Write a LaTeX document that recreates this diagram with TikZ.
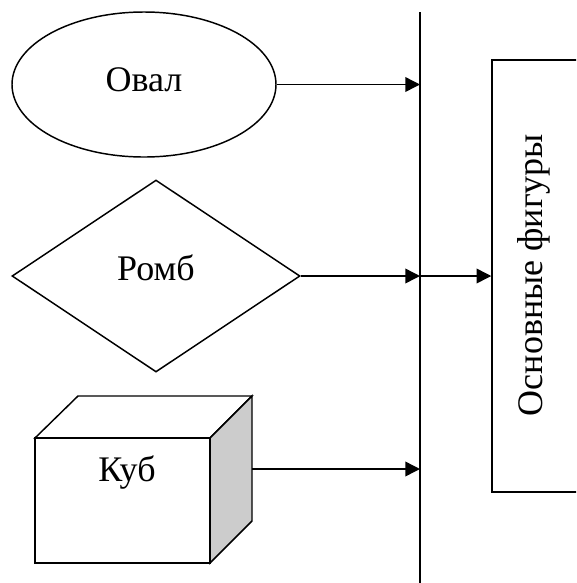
\documentclass[tikz,border=0pt]{standalone}
\usepackage{fontspec}
\setmainfont{Liberation Serif}
\usetikzlibrary{shapes.geometric,arrows.meta}
\begin{document}
\begin{tikzpicture}[x=0.75pt,y=-0.75pt,
  line width=1.1pt,
  lbl/.style={font=\fontsize{27}{32}\selectfont},
  shp/.style={draw,inner sep=0pt,line join=miter},
  conn/.style={-{Triangle[length=11pt,width=11pt]}}]
\useasboundingbox (0,0) rectangle (576,583);
\clip (0,0) rectangle (576,583);
% oval
\node[shp,ellipse,minimum width=198pt,minimum height=108.75pt] (oval) at (144,84.5) {};
\node[lbl] (ovaltxt) at (144,80) {Овал};
% diamond
\node[shp,diamond,minimum width=216pt,minimum height=144pt] (romb) at (156,276) {};
\node[lbl] (rombtxt) at (156,268) {Ромб};
% cube
\coordinate (ctl) at (35,438);
\coordinate (ctr) at (210,438);
\coordinate (cbr) at (210,563);
\coordinate (btl) at (78,396);
\coordinate (btr) at (252,396);
\coordinate (bbr) at (252,521);
\draw[fill=white,line join=miter] (ctl) -- (btl) -- (btr) -- (ctr) -- cycle;
\draw[fill=gray!40,line join=miter] (ctr) -- (btr) -- (bbr) -- (cbr) -- cycle;
\node[shp,rectangle,minimum width=131.25pt,minimum height=93.75pt] (cube) at (122.5,500.5) {};
\node[lbl] (cubetxt) at (127,472) {Куб};
\coordinate (cubeout) at (252,469);
% bus line
\coordinate (bustop) at (420,12);
\coordinate (busbot) at (420,590);
\draw (bustop) -- (busbot);
\coordinate (j1) at (420,84.5);
\coordinate (j2) at (420,276);
\coordinate (j3) at (420,469);
\draw[conn] (oval.east) -- (j1);
\draw[conn] (romb.east) -- (j2);
\draw[conn] (cubeout) -- (j3);
% target box
\node[shp,rectangle,minimum width=81pt,minimum height=324pt] (box) at (546,276) {};
\node[lbl,rotate=90] (boxtxt) at (534,275) {Основные фигуры};
\draw[conn] (j2) -- (box.west |- j2);
\end{tikzpicture}
\end{document}
